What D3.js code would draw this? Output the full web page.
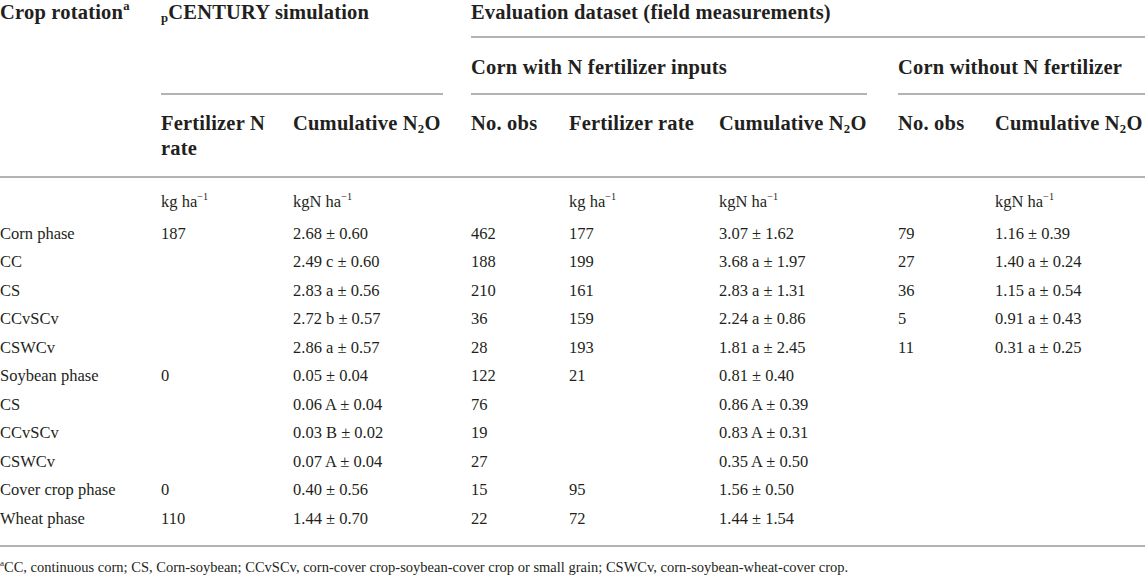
<!DOCTYPE html>
<html>
<head>
<meta charset="utf-8">
<script src="https://cdn.jsdelivr.net/npm/d3@7"></script>
<style>
  body { margin: 0; background: #fff; }
  svg text { font-family: 'Liberation Serif', 'DejaVu Serif', serif; fill: #231f20; }
</style>
</head>
<body>
<svg width="1145" height="580"></svg>
<script>
// table values, one array per column
const rotations = ['Corn phase', 'CC', 'CS', 'CCvSCv', 'CSWCv', 'Soybean phase', 'CS', 'CCvSCv', 'CSWCv', 'Cover crop phase', 'Wheat phase']
const simFertRate = [187, null, null, null, null, 0, null, null, null, 0, 110]
const simMean = [2.68, 2.49, 2.83, 2.72, 2.86, 0.05, 0.06, 0.03, 0.07, 0.40, 1.44]
const simLetter = ['', 'c', 'a', 'b', 'a', '', 'A', 'B', 'A', '', '']
const simSd = [0.60, 0.60, 0.56, 0.57, 0.57, 0.04, 0.04, 0.02, 0.04, 0.56, 0.70]
const fertObs = [462, 188, 210, 36, 28, 122, 76, 19, 27, 15, 22]
const fertRate = [177, 199, 161, 159, 193, 21, null, null, null, 95, 72]
const fertMean = [3.07, 3.68, 2.83, 2.24, 1.81, 0.81, 0.86, 0.83, 0.35, 1.56, 1.44]
const fertLetter = ['', 'a', 'a', 'a', 'a', '', 'A', 'A', 'A', '', '']
const fertSd = [1.62, 1.97, 1.31, 0.86, 2.45, 0.40, 0.39, 0.31, 0.50, 0.50, 1.54]
const noFertObs = [79, 27, 36, 5, 11, null, null, null, null, null, null]
const noFertMean = [1.16, 1.40, 1.15, 0.91, 0.31, null, null, null, null, null, null]
const noFertLetter = ['', 'a', 'a', 'a', 'a', '', '', '', '', '', '']
const noFertSd = [0.39, 0.24, 0.54, 0.43, 0.25, null, null, null, null, null, null]

const columns = ['rot', 'simRate', 'simN2O', 'obs', 'rate', 'n2o', 'obs0', 'n2o0']
const units = { simRate: 'kg ha', simN2O: 'kgN ha', rate: 'kg ha', n2o: 'kgN ha', n2o0: 'kgN ha' }
const footnote = 'CC, continuous corn; CS, Corn-soybean; CCvSCv, corn-cover crop-soybean-cover crop or small grain; CSWCv, corn-soybean-wheat-cover crop.'

const svg = d3.select('svg')
const width = +svg.attr('width')

const x = d3.scaleOrdinal()
  .domain(columns)
  .range([0, 161, 293, 471, 569, 719, 898, 995])

const y = d3.scalePoint()
  .domain(d3.range(rotations.length))
  .range([233, 518])

const f2 = d3.format('.2f')
const meanSd = (m, l, s) => m == null ? '' : `${f2(m)}${l ? ' ' + l : ''} ± ${f2(s)}`

const rows = rotations.map((r, i) => ({
  rot: r,
  simRate: simFertRate[i] == null ? '' : String(simFertRate[i]),
  simN2O: meanSd(simMean[i], simLetter[i], simSd[i]),
  obs: String(fertObs[i]),
  rate: fertRate[i] == null ? '' : String(fertRate[i]),
  n2o: meanSd(fertMean[i], fertLetter[i], fertSd[i]),
  obs0: noFertObs[i] == null ? '' : String(noFertObs[i]),
  n2o0: meanSd(noFertMean[i], noFertLetter[i], noFertSd[i])
}))

// draw text made of plain / sub / sup pieces
const rich = (sel, parts, size) => {
  let shift = 0
  parts.forEach(p => {
    const target = p.s === 'sub' ? size * 0.3 : p.s === 'sup' ? -size * 0.3 : 0
    sel.append('tspan')
      .attr('dy', target - shift)
      .style('font-size', p.s ? `${size * 0.62}px` : null)
      .text(p.t)
    shift = target
  })
}

const headSize = 20.5
const bodySize = 16.5

const header = (col, yy, parts) => {
  const t = svg.append('text')
    .attr('x', x(col))
    .attr('y', yy)
    .attr('dominant-baseline', 'central')
    .style('font-weight', 'bold')
    .style('font-size', `${headSize}px`)
    .style('letter-spacing', '0.2px')
  rich(t, parts, headSize)
}

const n2o = [{ t: 'Cumulative N' }, { t: '2', s: 'sub' }, { t: 'O' }]

header('rot', 12, [{ t: 'Crop rotation' }, { t: 'a', s: 'sup' }])
header('simRate', 12, [{ t: 'p', s: 'sub' }, { t: 'CENTURY simulation' }])
header('obs', 12, [{ t: 'Evaluation dataset (field measurements)' }])
header('obs', 67, [{ t: 'Corn with N fertilizer inputs' }])
header('obs0', 67, [{ t: 'Corn without N fertilizer' }])
header('simRate', 123, [{ t: 'Fertilizer N' }])
header('simRate', 148, [{ t: 'rate' }])
header('simN2O', 123, n2o)
header('obs', 123, [{ t: 'No. obs' }])
header('rate', 123, [{ t: 'Fertilizer rate' }])
header('n2o', 123, n2o)
header('obs0', 123, [{ t: 'No. obs' }])
header('n2o0', 123, n2o)

// rules
const rules = [
  { x1: x('obs'), x2: width, y: 37 },
  { x1: x('simRate'), x2: 443, y: 94 },
  { x1: x('obs'), x2: 867, y: 94 },
  { x1: x('obs0'), x2: width, y: 94 },
  { x1: 0, x2: width, y: 177 },
  { x1: 0, x2: width, y: 546 }
]
svg.selectAll('line.rule').data(rules).join('line')
  .attr('class', 'rule')
  .attr('x1', d => d.x1).attr('x2', d => d.x2)
  .attr('y1', d => d.y).attr('y2', d => d.y)
  .attr('stroke', '#9a9a9a')
  .attr('stroke-width', 1.5)

// units row
Object.entries(units).forEach(([col, u]) => {
  const t = svg.append('text')
    .attr('x', x(col))
    .attr('y', 201)
    .attr('dominant-baseline', 'central')
    .style('font-size', `${bodySize}px`)
  rich(t, [{ t: u }, { t: '−1', s: 'sup' }], bodySize)
})

// body cells
const rowG = svg.selectAll('g.row').data(rows).join('g')
  .attr('class', 'row')
  .attr('transform', (d, i) => `translate(0,${y(i)})`)

rowG.selectAll('text')
  .data(d => columns.map(c => ({ c, v: d[c] })).filter(e => e.v !== ''))
  .join('text')
  .attr('x', d => x(d.c))
  .attr('dominant-baseline', 'central')
  .style('font-size', `${bodySize}px`)
  .text(d => d.v)

const fn = svg.append('text')
  .attr('x', 0)
  .attr('y', 567)
  .attr('dominant-baseline', 'central')
  .style('font-size', '14.5px')
rich(fn, [{ t: 'a', s: 'sup' }, { t: footnote }], 14.5)
</script>
</body>
</html>
